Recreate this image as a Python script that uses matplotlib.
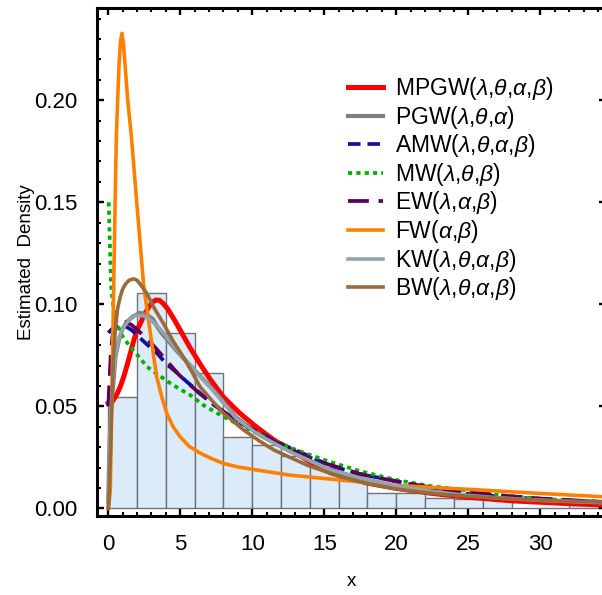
import matplotlib
matplotlib.use("Agg")
import matplotlib.pyplot as plt
import numpy as np

plt.rcParams['font.family'] = ['Liberation Sans', 'DejaVu Sans']
plt.rcParams['mathtext.fontset'] = 'custom'
plt.rcParams['mathtext.rm'] = 'Liberation Sans'
plt.rcParams['mathtext.it'] = 'Liberation Sans:italic'
plt.rcParams['lines.scale_dashes'] = False

# histogram (bin width 2)
bin_left = [0, 2, 4, 6, 8, 10, 12, 14, 16, 18, 20, 22, 24, 26, 28, 30, 32, 34]
bin_dens = [0.0544, 0.1054, 0.0858, 0.0662, 0.0348, 0.031, 0.0256, 0.0204, 0.0139,
            0.0076, 0.0076, 0.0049, 0.0045, 0.0045, 0.0, 0.0, 0.0015, 0.0015]

# fitted densities
mpgw_x = [0.0, 0.3, 0.6, 0.85, 1.07, 1.3, 1.53, 1.8, 2.0, 2.25, 2.5, 2.85, 3.1, 3.3, 3.55, 3.8, 4.1, 4.54,
          5.1, 5.7, 6.4, 7.1, 8.0, 9.15, 10.3, 11.5, 12.6, 14.0, 15.4, 17.9, 20.0, 22.5, 24.6, 28.0, 31.4, 34.6]
mpgw_y = [0.0515, 0.0525, 0.056, 0.060, 0.0645, 0.070, 0.076, 0.083, 0.0874, 0.091, 0.095, 0.099, 0.1012,
          0.1021, 0.1020, 0.1005, 0.098, 0.093, 0.086, 0.0785, 0.0705, 0.063, 0.0545, 0.0465, 0.0398, 0.0335,
          0.029, 0.0228, 0.0175, 0.0125, 0.0098, 0.0073, 0.0057, 0.0037, 0.0025, 0.0016]

pgw_x = [0.0, 0.04, 0.1, 0.2, 0.35, 0.5, 0.75, 1.0, 1.3, 1.7, 2.2, 2.7, 3.1, 3.4, 3.8, 4.3, 4.8, 5.5, 6.2,
         7.3, 8.9, 10.5, 12.6, 15.4, 17.5, 19.6, 22.0, 24.4, 27.0, 30.0, 34.6]
pgw_y = [0.003, 0.018, 0.035, 0.05, 0.0613, 0.0743, 0.083, 0.088, 0.0915, 0.094, 0.0958, 0.0948, 0.0928,
         0.0890, 0.0850, 0.0810, 0.0768, 0.0715, 0.0662, 0.058, 0.0445, 0.036, 0.028, 0.0188, 0.0148,
         0.0114, 0.0087, 0.0067, 0.0052, 0.0040, 0.0028]

amw_x = [0.0, 0.2, 0.45, 0.82, 1.2, 1.6, 2.0, 2.43, 2.9, 3.3, 4.0, 4.6, 5.3, 6.2, 7.2, 8.45, 9.7, 11.0,
         12.2, 13.5, 15.4, 17.5, 19.6, 22.0, 24.5, 27.4, 30.5, 34.6]
amw_y = [0.086, 0.0875, 0.0888, 0.0895, 0.0892, 0.0875, 0.0850, 0.0820, 0.0790, 0.0768, 0.071, 0.0675,
         0.063, 0.0575, 0.0515, 0.0449, 0.040, 0.0351, 0.031, 0.027, 0.021, 0.0168, 0.0139, 0.0103,
         0.0074, 0.0057, 0.0043, 0.0031]

mw_x = [0.03, 0.1, 0.19, 0.3, 0.45, 0.6, 0.8, 1.05, 1.53, 2.1, 2.69, 3.5, 4.3, 5.0, 5.7, 6.6, 8.0, 9.15,
        10.3, 11.5, 12.6, 14.0, 15.4, 17.5, 20.0, 22.3, 24.65, 27.0, 29.0, 31.4, 34.6]
mw_y = [0.150, 0.1315, 0.110, 0.1015, 0.095, 0.0907, 0.087, 0.0835, 0.0792, 0.0745, 0.0694, 0.0653,
        0.0613, 0.0583, 0.0555, 0.0506, 0.0449, 0.0408, 0.0368, 0.0330, 0.0298, 0.0262, 0.0228, 0.0182,
        0.0139, 0.0110, 0.0090, 0.0066, 0.0053, 0.0041, 0.0030]

ew_x = [0.0, 0.08, 0.18, 0.3, 0.5, 0.8, 1.2, 1.6, 2.1, 2.7, 3.3, 3.85, 4.4, 4.9, 5.6, 6.4, 7.2, 8.2, 9.3,
        10.5, 12.0, 13.5, 15.0, 17.5, 20.0, 22.5, 25.0, 27.5, 30.0, 34.6]
ew_y = [0.050, 0.062, 0.076, 0.085, 0.0895, 0.0912, 0.0912, 0.0900, 0.0870, 0.0830, 0.0785, 0.0740,
        0.0695, 0.0655, 0.0610, 0.0560, 0.0515, 0.0465, 0.0415, 0.0365, 0.0310, 0.0262, 0.0222, 0.0168,
        0.0132, 0.0102, 0.0079, 0.0062, 0.0048, 0.0031]

fw_x = [0.0, 0.05, 0.14, 0.25, 0.37, 0.47, 0.56, 0.65, 0.75, 0.85, 0.95, 1.05, 1.2, 1.35, 1.6, 2.0,
        2.46, 2.78, 3.1, 3.36, 3.7, 4.06, 4.5, 5.0, 5.6, 6.4, 7.2, 8.0, 9.0, 10.3, 12.6, 16.1, 19.6,
        25.1, 30.0, 34.6]
fw_y = [0.0, 0.002, 0.009, 0.055, 0.107, 0.148, 0.1825, 0.200, 0.218, 0.229, 0.2328, 0.228, 0.214,
        0.200, 0.1825, 0.148, 0.109, 0.093, 0.077, 0.0645, 0.055, 0.0466, 0.040, 0.035, 0.0305, 0.027,
        0.0243, 0.022, 0.0203, 0.0188, 0.0163, 0.0139, 0.0114, 0.0093, 0.0073, 0.0056]

kw_x = [0.0, 0.05, 0.12, 0.22, 0.35, 0.5, 0.75, 1.0, 1.4, 1.9, 2.4, 2.9, 3.4, 4.0, 4.8, 5.5, 6.4, 7.3,
        8.9, 10.5, 12.6, 15.4, 17.5, 19.6, 22.0, 24.4, 27.0, 30.0, 34.6]
kw_y = [0.0, 0.015, 0.035, 0.052, 0.065, 0.075, 0.0835, 0.088, 0.092, 0.0945, 0.0945, 0.0925, 0.0895,
        0.0845, 0.0775, 0.0715, 0.0645, 0.0575, 0.0440, 0.0358, 0.0278, 0.0190, 0.0148, 0.0116, 0.0088,
        0.0067, 0.0052, 0.0040, 0.0028]

bw_x = [0.0, 0.05, 0.15, 0.25, 0.35, 0.5, 0.65, 0.83, 1.0, 1.2, 1.45, 1.75, 2.0, 2.2, 2.67, 3.2, 3.82,
        4.5, 5.2, 5.8, 6.37, 7.2, 8.0, 9.4, 10.5, 11.5, 13.8, 16.1, 18.0, 20.0, 22.0, 24.4, 28.0, 31.0, 34.6]
bw_y = [0.0, 0.005, 0.028, 0.052, 0.072, 0.089, 0.098, 0.1037, 0.1075, 0.110, 0.1118, 0.1125, 0.1118,
        0.110, 0.1054, 0.098, 0.0907, 0.082, 0.0743, 0.067, 0.0596, 0.0528, 0.0466, 0.0384, 0.0330,
        0.0286, 0.0212, 0.0155, 0.0122, 0.0095, 0.0077, 0.0062, 0.0046, 0.0037, 0.0030]

fig = plt.figure(figsize=(6.02, 5.95), dpi=100)
ax = fig.add_axes([0.1611, 0.1336, 0.8455, 0.8529])

ax.bar(bin_left, bin_dens, width=2, align='edge', color='#dcebfa',
       edgecolor='#6e737a', linewidth=1.0, zorder=1)

ax.plot(mpgw_x, mpgw_y, color='#ff0000', lw=3.6, label=r'MPGW($\lambda$,$\theta$,$\alpha$,$\beta$)')
ax.plot(pgw_x, pgw_y, color='#7f7f7f', lw=3.0, label=r'PGW($\lambda$,$\theta$,$\alpha$)')
ax.plot(amw_x, amw_y, color='#10109a', lw=2.7, dashes=(9, 5),
        label=r'AMW($\lambda$,$\theta$,$\alpha$,$\beta$)')
ax.plot(mw_x, mw_y, color='#00b000', lw=2.7, dashes=(3, 3),
        label=r'MW($\lambda$,$\theta$,$\beta$)')
ax.plot(ew_x, ew_y, color='#5a005a', lw=2.7, dashes=(15, 7),
        label=r'EW($\lambda$,$\alpha$,$\beta$)')
ax.plot(fw_x, fw_y, color='#ff8000', lw=2.6, label=r'FW($\alpha$,$\beta$)')
ax.plot(kw_x, kw_y, color='#95a3ad', lw=2.6, label=r'KW($\lambda$,$\theta$,$\alpha$,$\beta$)')
ax.plot(bw_x, bw_y, color='#9a6a3a', lw=2.6, label=r'BW($\lambda$,$\theta$,$\alpha$,$\beta$)')

ax.set_xlim(-0.785, 34.56)
ax.set_ylim(-0.0035, 0.2452)
ax.set_xticks([0, 5, 10, 15, 20, 25, 30])
ax.set_xticks(np.arange(0, 35, 1), minor=True)
ax.set_yticks([0, 0.05, 0.10, 0.15, 0.20])
ax.set_yticklabels(['0.00', '0.05', '0.10', '0.15', '0.20'])
ax.set_yticks(np.arange(0, 0.245, 0.01), minor=True)
ax.tick_params(which='both', direction='in', top=True, right=True, labelsize=16)
ax.tick_params(which='major', length=5, width=1.7)
ax.tick_params(which='minor', length=3, width=1.5)
ax.tick_params(axis='y', pad=14)
ax.tick_params(axis='x', pad=13)
for s in ax.spines.values():
    s.set_linewidth(2.2)

ax.set_xlabel('x', fontsize=13.5, labelpad=13)
ax.set_ylabel('Estimated  Density', fontsize=13.5)
ax.yaxis.set_label_coords(-0.122, 0.5)

ax.legend(loc='upper left', bbox_to_anchor=(0.493, 0.868), frameon=False, fontsize=16.5,
          handlelength=1.52, handletextpad=0.55, labelspacing=0.07, borderpad=0, borderaxespad=0)

fig.savefig('out.png', dpi=100)
